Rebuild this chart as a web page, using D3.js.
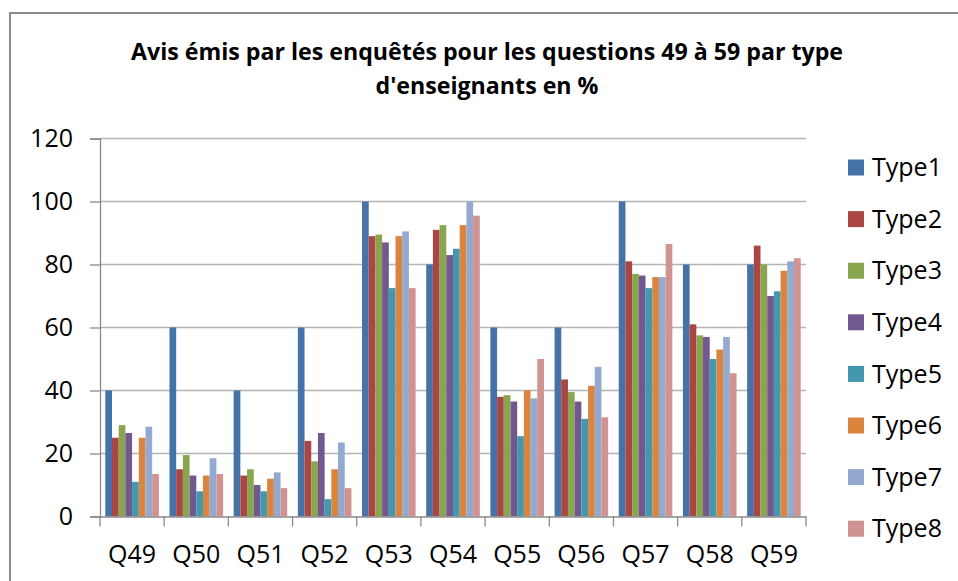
<!DOCTYPE html>
<html>
<head>
<meta charset="utf-8">
<script src="https://cdn.jsdelivr.net/npm/d3@7"></script>
<style>
  html, body { margin: 0; padding: 0; background: #fff; }
  svg { display: block; }
  text { font-family: "Open Sans", "DejaVu Sans", sans-serif; fill: #000; }
</style>
</head>
<body>
<svg id="chart" width="958" height="581"></svg>
<script>
// Questions on the x axis
const categories = ["Q49", "Q50", "Q51", "Q52", "Q53", "Q54", "Q55", "Q56", "Q57", "Q58", "Q59"];

// Percentage per teacher type
const type1 = [40, 60, 40, 60, 100, 80, 60, 60, 100, 80, 80];
const type2 = [25, 15, 13, 24, 89, 91, 38, 43.5, 81, 61, 86];
const type3 = [29, 19.5, 15, 17.5, 89.5, 92.5, 38.5, 39.5, 77, 57.5, 80];
const type4 = [26.5, 13, 10, 26.5, 87, 83, 36.5, 36.5, 76.5, 57, 70];
const type5 = [11, 8, 8, 5.5, 72.5, 85, 25.5, 31, 72.5, 50, 71.5];
const type6 = [25, 13, 12, 15, 89, 92.5, 40, 41.5, 76, 53, 78];
const type7 = [28.5, 18.5, 14, 23.5, 90.5, 100, 37.5, 47.5, 76, 57, 81];
const type8 = [13.5, 13.5, 9, 9, 72.5, 95.5, 50, 31.5, 86.5, 45.5, 82];

const seriesNames = ["Type1", "Type2", "Type3", "Type4", "Type5", "Type6", "Type7", "Type8"];
const seriesValues = [type1, type2, type3, type4, type5, type6, type7, type8];
const colors = ["#4572A7", "#AA4643", "#89A54E", "#71588F", "#4198AF", "#DB843D", "#93A9CF", "#D19392"];

const yTicks = [0, 20, 40, 60, 80, 100, 120];
const titleLines = ["Avis émis par les enquêtés pour les questions 49 à 59 par type", "d'enseignants en %"];
const titleWidths = [712, 223];

const svg = d3.select("#chart");

// chart frame
svg.append("rect")
  .attr("x", 10).attr("y", 13)
  .attr("width", 960).attr("height", 600)
  .attr("fill", "#fff")
  .attr("stroke", "#8a8a8a")
  .attr("stroke-width", 2);

const plot = { left: 100, right: 806, top: 138.5, bottom: 516.5 };

const x0 = d3.scaleBand().domain(categories).range([plot.left, plot.right]).padding(0);
const gap = x0.bandwidth() * 0.165;
const x1 = d3.scaleBand().domain(seriesNames).range([gap / 2, x0.bandwidth() - gap / 2]).padding(0);
const y = d3.scaleLinear().domain([0, 120]).range([plot.bottom, plot.top]);
const color = d3.scaleOrdinal().domain(seriesNames).range(colors);

// horizontal gridlines
svg.append("g")
  .selectAll("line")
  .data(yTicks.filter(d => d > 0))
  .join("line")
  .attr("x1", plot.left).attr("x2", plot.right)
  .attr("y1", d => y(d)).attr("y2", d => y(d))
  .attr("stroke", "#b4b4b4")
  .attr("stroke-width", 1.3);

// bars
const groups = svg.append("g")
  .selectAll("g")
  .data(categories)
  .join("g")
  .attr("transform", d => `translate(${x0(d)},0)`);

groups.selectAll("rect")
  .data((c, i) => seriesNames.map((s, k) => ({ s, v: seriesValues[k][i] })))
  .join("rect")
  .attr("x", d => x1(d.s))
  .attr("width", x1.bandwidth())
  .attr("y", d => y(d.v))
  .attr("height", d => y(0) - y(d.v))
  .attr("fill", d => color(d.s));

// y axis
const yAxis = svg.append("g")
  .attr("transform", `translate(${plot.left},0)`)
  .call(d3.axisLeft(y).tickValues(yTicks).tickSize(10).tickPadding(17).tickFormat(d3.format("d")));
yAxis.select(".domain").attr("stroke", "#8a8a8a").attr("stroke-width", 1.3);
yAxis.selectAll(".tick line").attr("stroke", "#8a8a8a").attr("stroke-width", 1.3);
yAxis.selectAll(".tick text")
  .style("font-family", "'Open Sans', sans-serif")
  .style("font-size", "25px")
  .attr("fill", "#000");

// x axis with ticks at category boundaries
const xAxis = svg.append("g")
  .attr("transform", `translate(0,${plot.bottom})`)
  .call(d3.axisBottom(x0).tickSize(0).tickPadding(29));
xAxis.select(".domain").attr("stroke", "#8a8a8a").attr("stroke-width", 1.3);
xAxis.selectAll(".tick text")
  .style("font-family", "'Open Sans', sans-serif")
  .style("font-size", "25px")
  .attr("fill", "#000");

xAxis.append("g")
  .selectAll("line")
  .data(categories.map(c => x0(c)).concat([plot.right]))
  .join("line")
  .attr("x1", d => d).attr("x2", d => d)
  .attr("y1", 0).attr("y2", 10)
  .attr("stroke", "#8a8a8a")
  .attr("stroke-width", 1.3);

// title, two centred bold lines
const title = svg.append("g");
title.selectAll("text")
  .data(titleLines)
  .join("text")
  .attr("x", 487)
  .attr("y", (d, i) => 59.5 + i * 34.5)
  .attr("text-anchor", "middle")
  .attr("textLength", (d, i) => titleWidths[i])
  .attr("lengthAdjust", "spacingAndGlyphs")
  .style("font-family", "'Open Sans', sans-serif")
  .style("font-weight", "bold")
  .style("font-size", "22.5px")
  .text(d => d);

// legend
const legend = svg.append("g")
  .selectAll("g")
  .data(seriesNames)
  .join("g")
  .attr("transform", (d, i) => `translate(848,${167.5 + i * 51.6})`);

legend.append("rect")
  .attr("x", 0).attr("y", -8)
  .attr("width", 16).attr("height", 16)
  .attr("fill", d => color(d));

legend.append("text")
  .attr("x", 24)
  .attr("y", 0)
  .attr("dy", "0.35em")
  .style("font-family", "'Open Sans', sans-serif")
  .style("font-size", "25px")
  .text(d => d);
</script>
</body>
</html>
